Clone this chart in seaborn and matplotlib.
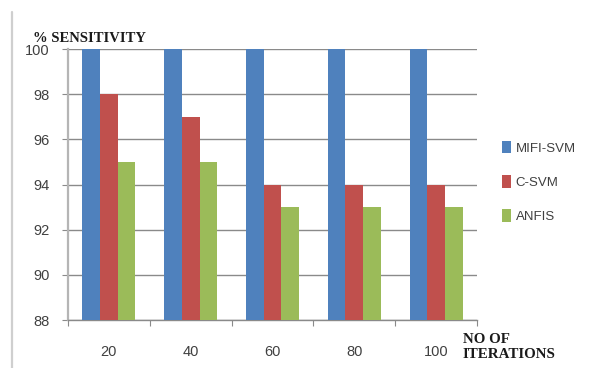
import matplotlib
matplotlib.use("Agg")
import matplotlib.pyplot as plt
import seaborn as sns
import pandas as pd
from matplotlib.lines import Line2D

iterations = ["20", "40", "60", "80", "100"]
mifi_svm = [100, 100, 100, 100, 100]
c_svm = [98, 97, 94, 94, 94]
anfis = [95, 95, 93, 93, 93]
series_names = ["MIFI-SVM", "C-SVM", "ANFIS"]
y_ticks = [88, 90, 92, 94, 96, 98, 100]

df = pd.DataFrame({
    "iter": iterations * 3,
    "value": mifi_svm + c_svm + anfis,
    "model": [n for n in series_names for _ in iterations],
})

sns.set_theme(style="white")
plt.rcParams["font.family"] = ["Liberation Sans", "DejaVu Sans"]

fig = plt.figure(figsize=(5.94, 3.68), dpi=100)
ax = fig.add_axes([68 / 594, 1 - 320 / 368, (477 - 68) / 594, (320 - 49) / 368])

palette = {"MIFI-SVM": "#4F81BD", "C-SVM": "#C0504D", "ANFIS": "#9BBB59"}
sns.barplot(data=df, x="iter", y="value", hue="model", order=iterations,
            hue_order=series_names, palette=palette, width=0.65,
            linewidth=0, saturation=1, ax=ax, zorder=3)

ax.set_ylim(88, 100)
ax.set_xlim(-0.5, 4.5)
ax.set_yticks(y_ticks)
ax.set_yticklabels([str(t) for t in y_ticks])
ax.set_axisbelow(True)
ax.yaxis.grid(True, color="#8a8a8a", linewidth=1.0)
ax.xaxis.grid(False)

for side in ("top", "right"):
    ax.spines[side].set_visible(False)
ax.spines["left"].set_color("#b5b5b5")
ax.spines["left"].set_linewidth(1.6)
ax.spines["bottom"].set_color("#8a8a8a")
ax.spines["bottom"].set_linewidth(1.0)

# category separators as small outward ticks; labels sit at centres
ax.set_xticks(range(len(iterations)))
ax.set_xticklabels(iterations)
ax.set_xticks([i - 0.5 for i in range(len(iterations) + 1)], minor=True)
ax.tick_params(axis="x", which="major", length=0, pad=18, labelsize=10.5,
               labelcolor="#404040")
ax.tick_params(axis="x", which="minor", length=4, width=0.8, color="#8a8a8a",
               bottom=True)
ax.tick_params(axis="y", which="major", length=4, width=0.8, color="#8a8a8a",
               left=True, pad=9, labelsize=10.5, labelcolor="#404040")

ax.set_xlabel("")
ax.set_ylabel("")

leg = ax.legend(loc="center left", bbox_to_anchor=(490 / 594, 1 - 182 / 368),
                bbox_transform=fig.transFigure, frameon=False,
                handlelength=0.7, handleheight=1.1, handletextpad=0.35,
                labelspacing=1.55, fontsize=9.5)
for t in leg.get_texts():
    t.set_color("#404040")

fig.text(33 / 594, 1 - 38 / 368, "% SENSITIVITY", family="Liberation Serif",
         fontweight="bold", fontsize=10.5, color="#1a1a1a", va="center", ha="left")
fig.text(463 / 594, 1 - 347 / 368, "NO OF\nITERATIONS", family="Liberation Serif",
         fontweight="bold", fontsize=10.8, color="#1a1a1a", va="center", ha="left",
         linespacing=1.15)

fig.add_artist(Line2D([12 / 594, 12 / 594], [0, 1 - 12 / 368],
                      transform=fig.transFigure, color="#cfcfcf", linewidth=1.6))

fig.savefig("out.png", dpi=100)
